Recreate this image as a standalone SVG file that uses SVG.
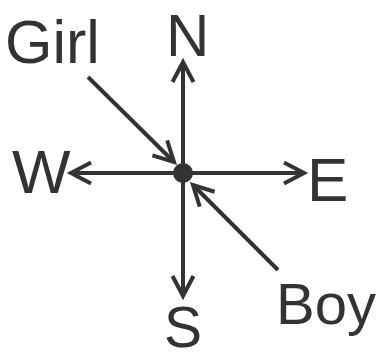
<svg xmlns="http://www.w3.org/2000/svg" width="382" height="352" viewBox="0 0 382 352">
  <style>
    .lbl { font-family: "Liberation Sans", Arial, sans-serif; fill: #333333; }
    .con { stroke: #333333; stroke-width: 4; fill: none; }
  </style>
  <defs>
    <marker id="arr" markerUnits="userSpaceOnUse" viewBox="-24 -14 28 28" refX="0" refY="0" markerWidth="28" markerHeight="28" orient="auto" overflow="visible">
      <path d="M-20,-10.5 L0,0 L-20,10.5" fill="none" stroke="#333333" stroke-width="4" stroke-linejoin="miter"/>
    </marker>
  </defs>
  <rect width="382" height="352" fill="#ffffff"/>
  <g id="connectors">
    <line class="con" x1="183" y1="173" x2="183" y2="62" marker-end="url(#arr)"/>
    <line class="con" x1="183" y1="173" x2="183" y2="296" marker-end="url(#arr)"/>
    <line class="con" x1="183" y1="173" x2="71" y2="173" marker-end="url(#arr)"/>
    <line class="con" x1="183" y1="173" x2="304" y2="173" marker-end="url(#arr)"/>
    <line class="con" x1="88" y1="77" x2="174" y2="162" marker-end="url(#arr)"/>
    <line class="con" x1="278" y1="270" x2="193" y2="185" marker-end="url(#arr)"/>
  </g>
  <g id="center"><circle cx="183" cy="173" r="10" fill="#333333"/></g>
  <g id="north"><text class="lbl" x="166" y="56" font-size="60">N</text></g>
  <g id="south"><text class="lbl" x="183" y="347" font-size="57" text-anchor="middle">S</text></g>
  <g id="west"><text class="lbl" x="12" y="193" font-size="62">W</text></g>
  <g id="east"><text class="lbl" x="307" y="201" font-size="62">E</text></g>
  <g id="girl"><text class="lbl" x="5" y="63" font-size="61">Girl</text></g>
  <g id="boy"><text class="lbl" x="276" y="324" font-size="58">Boy</text></g>
</svg>
